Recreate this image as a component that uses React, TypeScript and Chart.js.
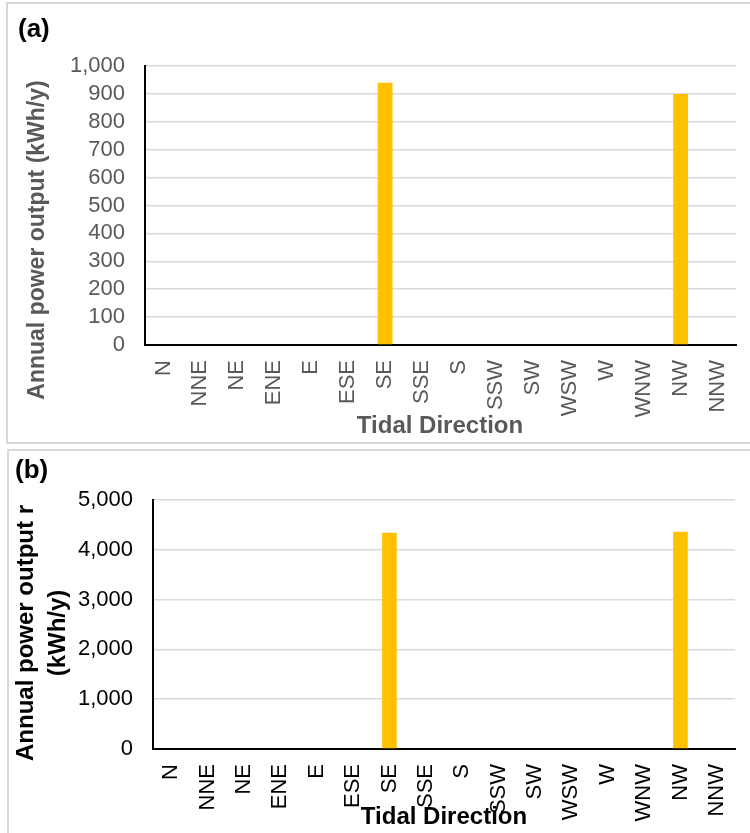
import React, { useEffect, useRef } from "react";
import { Chart, registerables } from "chart.js";

Chart.register(...registerables);

// Sixteen compass points of the tidal direction
const DIRECTIONS = [
  "N", "NNE", "NE", "ENE", "E", "ESE", "SE", "SSE",
  "S", "SSW", "SW", "WSW", "W", "WNW", "NW", "NNW",
];

// Annual power output (kWh/y), panel (a)
const OUTPUT_A = [0, 0, 0, 0, 0, 0, 940, 0, 0, 0, 0, 0, 0, 0, 900, 0];
// Annual power output (kWh/y), panel (b)
const OUTPUT_B = [0, 0, 0, 0, 0, 0, 4340, 0, 0, 0, 0, 0, 0, 0, 4360, 0];

const Y_MAX_A = 1000;
const Y_STEP_A = 100;
const Y_MAX_B = 5000;
const Y_STEP_B = 1000;

const FONT = '"Liberation Sans", Arial, Helvetica, sans-serif';
const BAR_COLOR = "#FFC000";
const GRID_COLOR = "#d9d9d9";

type Caption = {
  text: string;
  x: number;
  y: number;
  rotate?: number;
  size: number;
  color: string;
  align?: CanvasTextAlign;
};

// Draws free-standing captions (panel letter, axis titles) onto the canvas
function captionPlugin(captions: Caption[]) {
  return {
    id: "captions",
    afterDraw(chart: Chart) {
      const ctx = chart.ctx;
      for (const c of captions) {
        ctx.save();
        ctx.translate(c.x, c.y);
        if (c.rotate) ctx.rotate(c.rotate);
        ctx.font = `bold ${c.size}px ${FONT}`;
        ctx.fillStyle = c.color;
        ctx.textAlign = c.align || "center";
        ctx.textBaseline = "middle";
        ctx.fillText(c.text, 0, 0);
        ctx.restore();
      }
    },
  };
}

type PanelProps = {
  values: number[];
  yMax: number;
  yStep: number;
  width: number;
  height: number;
  yWidth: number;
  xHeight: number;
  padTop: number;
  padRight: number;
  textColor: string;
  captions: Caption[];
};

function Panel(p: PanelProps) {
  const ref = useRef<HTMLCanvasElement | null>(null);

  useEffect(() => {
    if (!ref.current) return;
    const chart = new Chart(ref.current, {
      type: "bar",
      data: {
        labels: DIRECTIONS,
        datasets: [
          {
            data: p.values,
            backgroundColor: BAR_COLOR,
            borderWidth: 0,
            categoryPercentage: 1,
            barPercentage: 0.4,
          },
        ],
      },
      options: {
        animation: false,
        responsive: false,
        maintainAspectRatio: false,
        layout: { padding: { top: p.padTop, right: p.padRight, left: 0, bottom: 0 } },
        plugins: {
          legend: { display: false },
          tooltip: { enabled: false },
        },
        scales: {
          x: {
            grid: { display: false, drawTicks: false },
            border: { color: "#000000", width: 2 },
            ticks: {
              color: p.textColor,
              font: { size: 22, family: FONT },
              minRotation: 90,
              maxRotation: 90,
              autoSkip: false,
              padding: 15,
            },
            afterFit: (s: any) => {
              s.height = p.xHeight;
              s.paddingLeft = 0;
              s.paddingRight = 0;
            },
          },
          y: {
            min: 0,
            max: p.yMax,
            ticks: {
              stepSize: p.yStep,
              autoSkip: false,
              color: p.textColor,
              font: { size: 22, family: FONT },
              padding: 20,
              callback: (v: any) => Number(v).toLocaleString("en-US"),
            },
            grid: {
              drawTicks: false,
              lineWidth: 1.5,
              color: (ctx: any) =>
                ctx.tick && ctx.tick.value === 0 ? "rgba(0,0,0,0)" : GRID_COLOR,
            },
            border: { color: "#000000", width: 2 },
            afterFit: (s: any) => {
              s.width = p.yWidth;
              s.paddingTop = 0;
              s.paddingBottom = 0;
            },
          },
        },
      },
      plugins: [captionPlugin(p.captions)],
    });
    return () => chart.destroy();
  }, []);

  return (
    <canvas
      ref={ref}
      width={p.width}
      height={p.height}
      style={{ display: "block", width: p.width, height: p.height }}
    />
  );
}

const GRAY = "#595959";
const BLACK = "#000000";

export default function App() {
  return (
    <div
      style={{
        position: "absolute",
        left: 0,
        top: 0,
        width: 750,
        height: 833,
        overflow: "hidden",
        background: "#ffffff",
      }}
    >
      <div
        style={{
          position: "absolute",
          left: 6,
          top: 2,
          width: 800,
          height: 438,
          border: `2px solid ${GRID_COLOR}`,
        }}
      >
        <Panel
          values={OUTPUT_A}
          yMax={Y_MAX_A}
          yStep={Y_STEP_A}
          width={742}
          height={438}
          yWidth={137}
          xHeight={97}
          padTop={62}
          padRight={14}
          textColor={GRAY}
          captions={[
            { text: "(a)", x: 10, y: 26, size: 26, color: BLACK, align: "left" },
            {
              text: "Annual power output (kWh/y)",
              x: 30,
              y: 236,
              rotate: -Math.PI / 2,
              size: 23,
              color: GRAY,
            },
            { text: "Tidal Direction", x: 432, y: 422, size: 24, color: GRAY },
          ]}
        />
      </div>
      <div
        style={{
          position: "absolute",
          left: 7,
          top: 449,
          width: 800,
          height: 500,
          border: `2px solid ${GRID_COLOR}`,
        }}
      >
        <Panel
          values={OUTPUT_B}
          yMax={Y_MAX_B}
          yStep={Y_STEP_B}
          width={741}
          height={382}
          yWidth={144}
          xHeight={84}
          padTop={49}
          padRight={15}
          textColor={BLACK}
          captions={[
            { text: "(b)", x: 6, y: 20, size: 26, color: BLACK, align: "left" },
            {
              text: "Annual power output r",
              x: 17,
              y: 182,
              rotate: -Math.PI / 2,
              size: 24,
              color: BLACK,
            },
            {
              text: "(kWh/y)",
              x: 49,
              y: 182,
              rotate: -Math.PI / 2,
              size: 24,
              color: BLACK,
            },
            { text: "Tidal Direction", x: 435, y: 366, size: 24, color: BLACK },
          ]}
        />
      </div>
    </div>
  );
}
